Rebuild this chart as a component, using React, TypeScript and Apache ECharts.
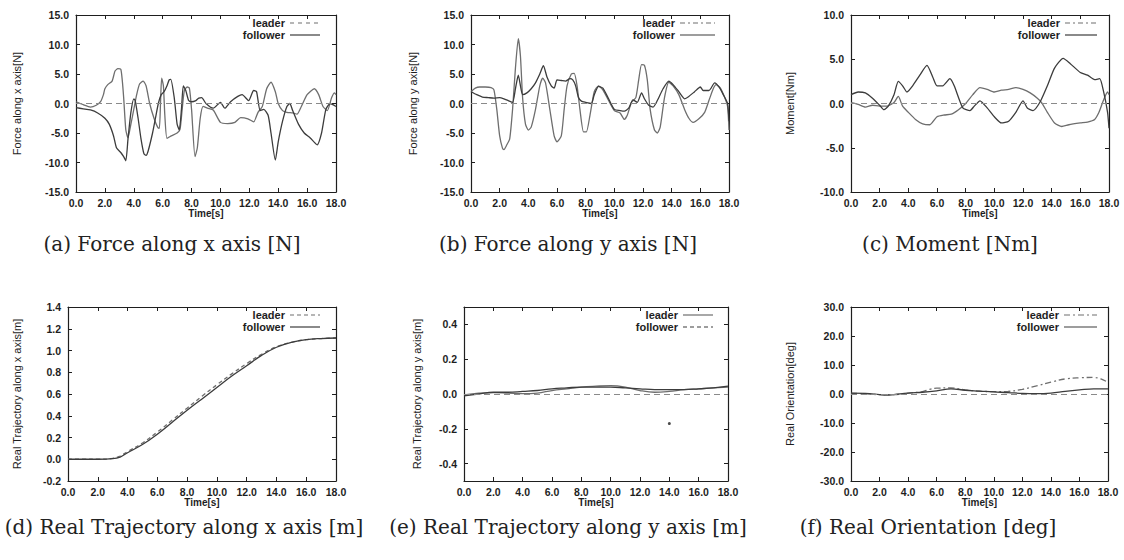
import React, { useEffect, useRef } from "react";
import * as echarts from "echarts";

type Pt = [number, number];

// ---------- data (time [s], value) ----------
const forceXLeader: Pt[] = [
  [0, 0.3], [0.5, -0.2], [1.0, -0.6], [1.4, -0.3], [1.7, 0.3], [1.9, 1.5], [2.0, 2.5], [2.2, 3.2], [2.5, 3.8],
  [2.7, 5.5], [2.9, 5.9], [3.1, 5.8], [3.2, 4.0], [3.3, 1.0], [3.45, -4.5], [3.6, -5.8], [3.8, -3.5], [4.0, -1.0],
  [4.2, 1.5], [4.4, 3.3], [4.65, 3.8], [4.85, 3.0], [5.1, 0], [5.4, -2.5], [5.65, -4.0], [5.77, -4.2], [5.85, 0],
  [5.93, 4.3], [6.05, 3.0], [6.15, -2.0], [6.3, -5.9], [6.6, -5.5], [7.0, -5.0], [7.2, -4.4], [7.35, -1.0],
  [7.5, 2.2], [7.7, 2.8], [7.85, 2.6], [8.0, -1.0], [8.24, -9.0], [8.4, -7.5], [8.6, -2.5], [8.8, -0.5],
  [9.1, -0.8], [9.5, -1.1], [10.0, -3.2], [10.5, -3.4], [11.0, -3.2], [11.4, -2.4], [11.9, -2.6], [12.3, -3.1],
  [12.6, -1.5], [12.9, -0.5], [13.2, 2.5], [13.5, 3.6], [13.8, 2.0], [14.0, 0], [14.3, -1.2], [14.6, -1.5],
  [15.0, -1.6], [15.3, -1.8], [15.6, -0.5], [16.0, 1.5], [16.5, 2.5], [16.8, 1.5], [17.1, -0.5], [17.4, -1.2],
  [17.7, 1.0], [17.9, 1.8], [18.0, 1.5],
];
const forceXFollower: Pt[] = [
  [0, -0.7], [0.5, -0.9], [1.0, -1.1], [1.5, -1.6], [2.0, -2.5], [2.3, -3.5], [2.6, -5.5], [2.8, -7.5], [3.1, -8.3],
  [3.3, -9.0], [3.45, -9.7], [3.6, -6.0], [3.8, -1.5], [4.0, 0.8], [4.1, 0.5], [4.3, -2.5], [4.5, -6.0], [4.7, -8.5],
  [4.85, -8.8], [5.0, -8.0], [5.3, -5.0], [5.5, -2.5], [5.7, 0], [5.9, 1.5], [6.1, 2.0], [6.3, 3.0], [6.45, 4.0],
  [6.56, 4.1], [6.8, 1.0], [7.0, -3.5], [7.15, -4.5], [7.3, -1.0], [7.43, 3.0], [7.6, 2.2], [7.8, 0.5], [8.0, 0.3],
  [8.3, 0.5], [8.5, 0.9], [8.7, 1.0], [9.0, 0], [9.5, -0.8], [10.0, 0.2], [10.3, -0.8], [10.7, 0.3], [11.2, 1.2],
  [11.5, 1.5], [11.95, 0.5], [12.3, 2.2], [12.5, 2.0], [12.75, -1.2], [13.0, -1.0], [13.3, -2.0], [13.5, -5.0],
  [13.8, -9.6], [14.0, -6.5], [14.3, -3.0], [14.6, -0.5], [14.8, 0], [15.0, -1.2], [15.4, -3.5], [15.8, -5.0],
  [16.2, -5.8], [16.7, -7.0], [17.0, -5.0], [17.3, -1.0], [17.6, 0], [18.0, -0.5],
];
const forceYLeader: Pt[] = [
  [0, 2.0], [0.3, 2.6], [0.6, 2.8], [1.0, 2.8], [1.4, 2.7], [1.6, 2.3], [1.8, -1.0], [2.0, -5.5], [2.2, -7.6],
  [2.3, -7.8], [2.5, -7.0], [2.7, -6.0], [2.9, -1.0], [3.1, 6.0], [3.3, 11.0], [3.45, 8.0], [3.6, 1.0], [3.8, -3.5],
  [4.0, -4.5], [4.2, -4.0], [4.5, -1.0], [4.8, 3.0], [5.0, 4.3], [5.2, 3.5], [5.5, -1.0], [5.8, -5.5], [6.0, -6.5],
  [6.3, -5.5], [6.5, -1.0], [6.7, 3.0], [7.0, 5.0], [7.2, 5.1], [7.4, 3.0], [7.6, -1.0], [7.85, -4.8], [8.05, -4.8],
  [8.3, -2.0], [8.6, 2.0], [8.9, 3.0], [9.2, 2.3], [9.6, 0.5], [10.0, -1.2], [10.4, -1.6], [10.7, -2.7], [10.9, -2.0],
  [11.2, 0.2], [11.5, 1.0], [11.7, 4.0], [11.9, 6.6], [12.1, 6.5], [12.3, 4.0], [12.5, -1.0], [12.8, -4.5],
  [13.0, -5.0], [13.2, -4.0], [13.5, 1.0], [13.8, 3.6], [14.1, 3.0], [14.5, 1.5], [14.9, -1.0], [15.2, -2.5],
  [15.5, -3.2], [15.9, -2.6], [16.3, -1.5], [16.6, 0.5], [16.9, 2.5], [17.1, 3.2], [17.4, 2.6], [17.7, 1.0],
  [17.9, -0.5], [18.0, -4.5],
];
const forceYFollower: Pt[] = [
  [0, 2.0], [0.4, 1.5], [0.8, 1.1], [1.2, 1.0], [1.6, 0.9], [2.0, 1.0], [2.3, 0.8], [2.6, 0.5], [2.9, 0.2],
  [3.1, 2.5], [3.3, 4.8], [3.45, 3.0], [3.6, 1.5], [3.9, 1.8], [4.2, 2.5], [4.5, 3.5], [4.8, 5.0], [5.05, 6.4],
  [5.3, 4.5], [5.6, 3.0], [5.8, 2.6], [6.0, 4.0], [6.3, 3.9], [6.6, 3.8], [6.9, 4.2], [7.1, 4.0], [7.3, 3.0],
  [7.5, 1.0], [7.7, 0.4], [8.0, 0.2], [8.4, 0.0], [8.6, 1.5], [8.9, 2.9], [9.2, 2.6], [9.6, 0.8], [10.0, -1.0],
  [10.4, -1.2], [10.7, -1.3], [11.0, -0.8], [11.3, 0.6], [11.6, 0.2], [11.9, 1.8], [12.1, 0.8], [12.4, -0.3],
  [12.7, -0.6], [13.0, 0.5], [13.4, 2.5], [13.8, 3.8], [14.1, 3.2], [14.5, 2.0], [14.9, 0.8], [15.2, 1.2],
  [15.6, 2.0], [16.0, 2.8], [16.2, 2.2], [16.6, 2.2], [17.0, 3.5], [17.3, 2.8], [17.6, 1.5], [17.9, 0.0], [18.0, -3.0],
];
const momentLeader: Pt[] = [
  [0, 0.1], [0.5, -0.1], [1.0, -0.4], [1.5, -0.2], [2.0, -0.3], [2.5, -0.3], [3.0, 0.1], [3.3, 0.8], [3.6, -0.3],
  [4.0, -1.0], [4.5, -1.8], [5.0, -2.3], [5.5, -2.4], [6.0, -1.5], [6.5, -1.3], [7.0, -1.2], [7.5, -0.7], [8.0, 0.0],
  [8.5, 1.0], [9.0, 1.8], [9.5, 1.6], [10.0, 1.3], [10.5, 1.5], [11.0, 1.6], [11.5, 1.8], [12.0, 1.6], [12.5, 1.2],
  [13.0, 0.6], [13.3, 0.1], [13.7, -1.0], [14.2, -2.2], [14.7, -2.6], [15.2, -2.4], [16.0, -2.2], [16.5, -2.1],
  [17.0, -1.8], [17.3, -1.0], [17.6, 0.3], [17.9, 1.3], [18.0, 1.0],
];
const momentFollower: Pt[] = [
  [0, 1.0], [0.5, 1.3], [1.0, 1.2], [1.5, 0.6], [2.0, -0.2], [2.3, -0.7], [2.6, -0.3], [3.0, 1.0], [3.3, 2.5],
  [3.6, 2.0], [3.9, 1.3], [4.3, 2.0], [4.8, 3.2], [5.3, 4.3], [5.7, 3.0], [6.0, 2.0], [6.4, 2.0], [6.9, 2.8],
  [7.2, 2.0], [7.8, -0.5], [8.3, -0.8], [8.6, -0.3], [9.0, 0.3], [9.5, -0.5], [10.0, -1.5], [10.5, -2.2],
  [11.0, -2.0], [11.5, -1.0], [12.0, 0.3], [12.3, -0.5], [12.7, -0.8], [13.2, 0.2], [13.7, 2.0], [14.2, 4.0],
  [14.8, 5.1], [15.3, 4.5], [16.0, 3.5], [16.5, 3.2], [17.0, 2.7], [17.35, 2.8], [17.6, 1.5], [17.9, -1.0], [18.0, -2.8],
];
const trajXLeader: Pt[] = [
  [0, 0], [1, 0], [2, 0], [3, 0.008], [3.5, 0.03], [4, 0.07], [5, 0.15], [6, 0.25], [7, 0.36], [8, 0.47], [9, 0.58],
  [10, 0.685], [11, 0.785], [12, 0.88], [13, 0.965], [14, 1.035], [15, 1.075], [16, 1.1], [17, 1.11], [18, 1.115],
];
const trajXFollower: Pt[] = [
  [0, 0], [1, 0], [2, 0], [3, 0.005], [3.5, 0.02], [4, 0.06], [5, 0.135], [6, 0.23], [7, 0.34], [8, 0.45], [9, 0.555],
  [10, 0.66], [11, 0.765], [12, 0.86], [13, 0.955], [14, 1.03], [15, 1.075], [16, 1.1], [17, 1.11], [18, 1.115],
];
const trajYLeader: Pt[] = [
  [0, -0.005], [1, 0.005], [2, 0.008], [3, 0.005], [4, 0.002], [5, 0.005], [6, 0.02], [7, 0.03], [8, 0.04], [9, 0.045],
  [10, 0.048], [11, 0.04], [12, 0.02], [13, 0.01], [14, 0.015], [15, 0.025], [16, 0.03], [17, 0.035], [18, 0.04],
];
const trajYFollower: Pt[] = [
  [0, -0.01], [1, 0.0], [2, 0.01], [3, 0.01], [4, 0.015], [5, 0.02], [6, 0.03], [7, 0.035], [8, 0.04], [9, 0.04],
  [10, 0.04], [11, 0.035], [12, 0.03], [13, 0.025], [14, 0.025], [15, 0.025], [16, 0.03], [17, 0.035], [18, 0.045],
];
const trajYStray: Pt[] = [[14.0, -0.17]];
const orientLeader: Pt[] = [
  [0, 0.2], [1, 0.1], [2, -0.2], [3, -0.2], [4, 0.3], [5, 0.8], [5.5, 1.6], [6, 2.0], [7, 2.1], [8, 1.4], [9, 1.0],
  [10, 0.8], [11, 0.9], [12, 1.6], [13, 2.8], [14, 4.1], [15, 5.2], [16, 5.6], [17, 5.7], [17.5, 5.2], [18, 4.0],
];
const orientFollower: Pt[] = [
  [0, 0.3], [1, 0.2], [2, -0.2], [2.5, -0.4], [3, -0.2], [4, 0.3], [5, 0.6], [6, 1.1], [7, 1.8], [8, 1.3], [9, 1.0],
  [10, 0.7], [11, 0.5], [12, 0.2], [13, 0.1], [14, 0.3], [15, 0.9], [16, 1.4], [17, 1.8], [18, 1.8],
];

const timeRange = { min: 0, max: 18, interval: 2 };
const trajYTicks = [-0.4, -0.2, 0, 0.2, 0.4];
const legendNames = ["leader", "follower"];

// ---------- layout ----------
const W = 1124;
const H = 560;
const SANS = "Liberation Sans, Arial, sans-serif";
const SERIF = "DejaVu Serif, serif";
const INK = "#1e1e1e";
const LIGHT = "#6e6e6e";
const DARK = "#3c3c3c";

type Panel = {
  grid: { left: number; top: number; width: number; height: number };
  y: { min: number; max: number; interval: number; custom?: number[] };
  yTitle: string;
  yTitleX: number;
  caption: string;
  capX: number;
  capY: number;
  leader: Pt[];
  follower: Pt[];
  zero: boolean;
  sampleRight: number;
  itemW: number;
  leaderType: any;
  followerType: any;
  leaderLegendType: number[] | null;
  followerLegendType: number[] | null;
  smooth: number;
};

const panels: Panel[] = [
  {
    grid: { left: 76, top: 15, width: 260, height: 177 },
    y: { min: -15, max: 15, interval: 5 }, yTitle: "Force along x axis[N]", yTitleX: 17,
    caption: "(a) Force along x axis [N]", capX: 172, capY: 244,
    leader: forceXLeader, follower: forceXFollower, zero: true, sampleRight: 320, itemW: 30,
    leaderType: "solid", followerType: "solid", leaderLegendType: [4, 4], followerLegendType: null, smooth: 0.2,
  },
  {
    grid: { left: 471, top: 15, width: 258, height: 177 },
    y: { min: -15, max: 15, interval: 5 }, yTitle: "Force along y axis[N]", yTitleX: 413,
    caption: "(b) Force along y axis [N]", capX: 568, capY: 244,
    leader: forceYLeader, follower: forceYFollower, zero: true, sampleRight: 715, itemW: 35,
    leaderType: "solid", followerType: "solid", leaderLegendType: [5, 3, 2, 3], followerLegendType: null, smooth: 0.2,
  },
  {
    grid: { left: 851, top: 15, width: 258, height: 177 },
    y: { min: -10, max: 10, interval: 5 }, yTitle: "Moment[Nm]", yTitleX: 790,
    caption: "(c) Moment [Nm]", capX: 950, capY: 244,
    leader: momentLeader, follower: momentFollower, zero: true, sampleRight: 1097, itemW: 32,
    leaderType: "solid", followerType: "solid", leaderLegendType: [5, 3, 2, 3], followerLegendType: null, smooth: 0.2,
  },
  {
    grid: { left: 68, top: 307, width: 268, height: 174 },
    y: { min: -0.2, max: 1.4, interval: 0.2 }, yTitle: "Real Trajectory along x axis[m]", yTitleX: 17,
    caption: "(d) Real Trajectory along x axis [m]", capX: 184, capY: 527,
    leader: trajXLeader, follower: trajXFollower, zero: false, sampleRight: 320, itemW: 30,
    leaderType: [4, 3], followerType: "solid", leaderLegendType: [4, 3], followerLegendType: null, smooth: 0.4,
  },
  {
    grid: { left: 464, top: 307, width: 264, height: 174 },
    y: { min: -0.5, max: 0.5, interval: 0.1, custom: trajYTicks }, yTitle: "Real Trajectory along y axis[m]", yTitleX: 417,
    caption: "(e) Real Trajectory along y axis [m]", capX: 568, capY: 527,
    leader: trajYLeader, follower: trajYFollower, zero: true, sampleRight: 713, itemW: 30,
    leaderType: "solid", followerType: "solid", leaderLegendType: null, followerLegendType: [4, 3], smooth: 0.4,
  },
  {
    grid: { left: 851, top: 307, width: 257, height: 174 },
    y: { min: -30, max: 30, interval: 10 }, yTitle: "Real Orientation[deg]", yTitleX: 790,
    caption: "(f) Real Orientation [deg]", capX: 928, capY: 527,
    leader: orientLeader, follower: orientFollower, zero: true, sampleRight: 1097, itemW: 33,
    leaderType: [6, 3, 2, 3], followerType: "solid", leaderLegendType: [6, 3, 2, 3], followerLegendType: null, smooth: 0.4,
  },
];

function buildOption() {
  const grid: any[] = [];
  const xAxis: any[] = [];
  const yAxis: any[] = [];
  const series: any[] = [];
  const graphic: any[] = [];

  const lineStyle = { color: INK, width: 1.2 };
  const tick = { show: true, inside: true, length: 4, lineStyle: { color: INK, width: 1 } };
  const label = { fontSize: 10.5, color: INK, fontFamily: SANS, fontWeight: "bold" as const };

  panels.forEach((p, i) => {
    grid.push({ ...p.grid, containLabel: false });
    const xBase = { type: "value", gridIndex: i, ...timeRange, splitLine: { show: false }, axisLine: { show: true, onZero: false, lineStyle } };
    xAxis.push({
      ...xBase, position: "bottom", axisTick: tick,
      axisLabel: { ...label, margin: 5, formatter: (v: number) => v.toFixed(1) },
    });
    xAxis.push({ ...xBase, position: "top", axisTick: tick, axisLabel: { show: false } });

    const yBase = {
      type: "value", gridIndex: i, min: p.y.min, max: p.y.max, interval: p.y.interval,
      splitLine: { show: false }, axisLine: { show: true, onZero: false, lineStyle },
    };
    const yTick: any = p.y.custom ? { ...tick, customValues: p.y.custom } : tick;
    const yLabel: any = { ...label, margin: 7, formatter: (v: number) => v.toFixed(1) };
    if (p.y.custom) yLabel.customValues = p.y.custom;
    yAxis.push({ ...yBase, position: "left", axisTick: yTick, axisLabel: yLabel });
    yAxis.push({ ...yBase, position: "right", axisTick: yTick, axisLabel: { show: false } });

    const xi = i * 2;
    const yi = i * 2;
    series.push({
      type: "line", name: legendNames[0], xAxisIndex: xi, yAxisIndex: yi, data: p.leader,
      symbol: "none", smooth: p.smooth, lineStyle: { color: LIGHT, width: 1.3, type: p.leaderType },
      z: 2,
    });
    series.push({
      type: "line", name: legendNames[1], xAxisIndex: xi, yAxisIndex: yi, data: p.follower,
      symbol: "none", smooth: p.smooth, lineStyle: { color: DARK, width: 1.3, type: p.followerType },
      z: 3,
      markLine: p.zero
        ? {
            silent: true, symbol: "none", label: { show: false },
            lineStyle: { color: "#8a8a8a", width: 1, type: [6, 4] },
            data: [{ yAxis: 0 }],
          }
        : undefined,
    });
    if (i === 4) {
      series.push({
        type: "scatter", name: "stray", xAxisIndex: xi, yAxisIndex: yi, data: trajYStray,
        symbol: "circle", symbolSize: 3, itemStyle: { color: INK },
      });
    }

    // legend (gnuplot style: label, then line sample on the right)
    const rowY = [p.grid.top + 8, p.grid.top + 20];
    const types = [p.leaderLegendType, p.followerLegendType];
    const colors = [LIGHT, DARK];
    legendNames.forEach((nm, k) => {
      graphic.push({
        type: "text", x: p.sampleRight - p.itemW - 5, y: rowY[k],
        style: { text: nm, fontSize: 11, fontFamily: SANS, fontWeight: "bold", fill: INK, textAlign: "right", textVerticalAlign: "middle" },
      });
      graphic.push({
        type: "line",
        shape: { x1: p.sampleRight - p.itemW, y1: rowY[k], x2: p.sampleRight, y2: rowY[k] },
        style: { stroke: colors[k], lineWidth: 1.2, lineDash: types[k] || null },
      });
    });

    const cx = p.grid.left + p.grid.width / 2;
    const cy = p.grid.top + p.grid.height / 2;
    graphic.push({
      type: "text", x: p.yTitleX, y: cy, rotation: Math.PI / 2,
      style: { text: p.yTitle, fontSize: 11, fontFamily: SANS, fill: INK, textAlign: "center", textVerticalAlign: "middle" },
    });
    graphic.push({
      type: "text", x: cx, y: p.grid.top + p.grid.height + 21,
      style: { text: "Time[s]", fontSize: 10, fontFamily: SANS, fontWeight: "bold", fill: INK, textAlign: "center", textVerticalAlign: "middle" },
    });
    graphic.push({
      type: "text", x: p.capX, y: p.capY,
      style: { text: p.caption, fontSize: 20, fontFamily: SERIF, fill: "#222", textAlign: "center", textVerticalAlign: "middle" },
    });
  });

  return {
    animation: false,
    backgroundColor: "#ffffff",
    grid, xAxis, yAxis, series, graphic,
  };
}

export default function App() {
  const ref = useRef<HTMLDivElement>(null);
  useEffect(() => {
    document.body.style.margin = "0";
    if (!ref.current) return;
    const chart = echarts.init(ref.current, null, { renderer: "svg" });
    chart.setOption(buildOption() as any);
    return () => chart.dispose();
  }, []);
  return <div ref={ref} style={{ width: W, height: H }} />;
}
